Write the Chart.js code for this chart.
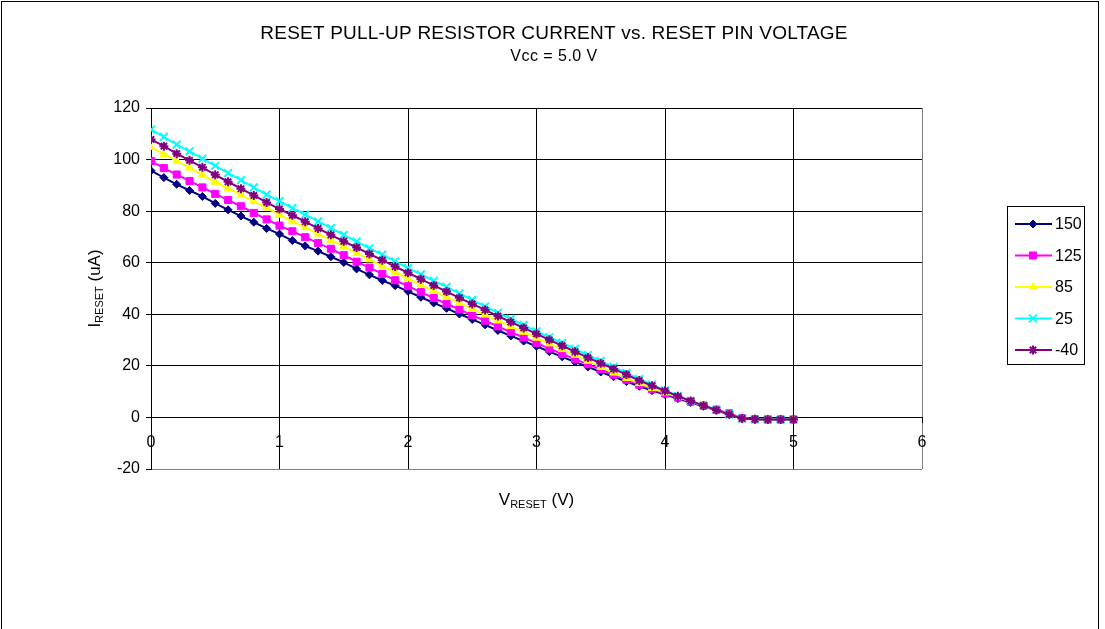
<!DOCTYPE html>
<html>
<head>
<meta charset="utf-8">
<script src="https://cdn.jsdelivr.net/npm/chart.js@4.4.1/dist/chart.umd.min.js"></script>
<style>
  html, body { margin: 0; padding: 0; background: #fff; }
  #c { display: block; }
</style>
</head>
<body>
<canvas id="c" width="1105" height="629"></canvas>
<script>
// ---- data ----
const voltage = [0.0,0.1,0.2,0.3,0.4,0.5,0.6,0.7,0.8,0.9,
                 1.0,1.1,1.2,1.3,1.4,1.5,1.6,1.7,1.8,1.9,
                 2.0,2.1,2.2,2.3,2.4,2.5,2.6,2.7,2.8,2.9,
                 3.0,3.1,3.2,3.3,3.4,3.5,3.6,3.7,3.8,3.9,
                 4.0,4.1,4.2,4.3,4.4,4.5,4.6,4.7,4.8,4.9,5.0];
const seriesNames = ['150', '125', '85', '25', '-40'];
const current150 = [95.7,93.0,90.4,88.0,85.7,83.0,80.5,78.1,75.7,73.3,
                    71.1,68.6,66.5,64.5,62.3,60.1,57.6,55.3,53.1,51.1,
                    48.9,46.6,44.4,42.3,40.1,38.0,35.9,33.7,31.6,29.6,
                    27.6,25.5,23.5,21.5,19.6,17.6,15.8,13.9,12.1,10.4,
                    8.9,7.3,5.8,4.3,2.8,1.2,-0.4,-0.7,-0.8,-0.8,-0.8];
const current125 = [99.4,96.7,94.2,91.7,89.2,86.7,84.3,81.9,79.3,76.8,
                    74.4,72.2,69.9,67.6,65.4,62.9,60.4,58.1,55.7,53.2,
                    50.9,48.6,46.3,44.1,41.9,39.6,37.5,35.3,33.1,31.0,
                    28.9,26.7,24.6,22.6,20.6,18.6,16.6,14.6,12.7,10.9,
                    9.3,7.7,6.1,4.5,3.0,1.6,-0.3,-0.7,-0.8,-0.8,-0.8];
const current85  = [104.8,102.1,99.5,96.8,94.1,91.3,88.8,86.4,83.8,81.3,
                    78.5,76.0,73.7,71.2,68.7,66.3,63.7,61.2,58.8,56.3,
                    53.8,51.4,49.1,46.7,44.4,42.0,39.8,37.5,35.3,33.1,
                    30.8,28.6,26.4,24.2,21.9,19.5,17.3,15.2,13.2,11.3,
                    9.6,7.9,6.3,4.6,2.9,1.3,-0.4,-0.7,-0.8,-0.8,-0.8];
const current25  = [111.6,108.8,105.8,103.2,100.4,97.6,94.8,92.0,89.2,86.4,
                    83.9,81.2,78.7,76.0,73.4,70.8,68.2,65.6,63.1,60.5,
                    57.9,55.5,53.0,50.6,48.1,45.6,43.0,40.6,38.2,35.8,
                    33.4,31.1,28.9,26.6,24.2,21.9,19.6,17.2,14.9,12.7,
                    10.5,8.3,6.4,4.6,2.9,1.2,-0.4,-0.7,-0.8,-0.8,-0.8];
const currentM40 = [107.8,105.2,102.3,99.7,97.0,94.1,91.4,88.7,86.1,83.4,
                    80.8,78.4,75.9,73.3,70.8,68.3,65.9,63.4,61.0,58.5,
                    56.1,53.6,51.2,48.8,46.4,44.0,41.7,39.3,37.0,34.7,
                    32.4,30.1,27.8,25.5,23.2,21.0,18.8,16.6,14.3,12.3,
                    10.3,8.2,6.4,4.6,2.9,1.2,-0.4,-0.7,-0.8,-0.8,-0.8];
const xTicks = [0, 1, 2, 3, 4, 5, 6];
const yTicks = [-20, 0, 20, 40, 60, 80, 100, 120];

// ---- styles ----
const FONT = '"Liberation Sans", Arial, sans-serif';
const styles = [
  { color: '#000080', pointStyle: 'rectRot',  radius: 4,   bw: 1 },
  { color: '#FF00FF', pointStyle: 'rect',     radius: 5,   bw: 1 },
  { color: '#FFFF00', pointStyle: 'triangle', radius: 4.5, bw: 1 },
  { color: '#00FFFF', pointStyle: 'crossRot', radius: 5.5, bw: 2 },
  { color: '#800080', pointStyle: 'star',     radius: 4.5, bw: 2 }
];
const allSeries = [current150, current125, current85, current25, currentM40];

const datasets = allSeries.map((arr, i) => ({
  label: seriesNames[i],
  data: voltage.map((v, k) => ({ x: v, y: arr[k] })),
  borderColor: styles[i].color,
  backgroundColor: styles[i].color,
  pointBackgroundColor: styles[i].color,
  pointBorderColor: styles[i].color,
  pointStyle: styles[i].pointStyle,
  pointRadius: styles[i].radius,
  pointBorderWidth: styles[i].bw,
  borderWidth: 2,
  tension: 0,
  order: allSeries.length - i
}));

function drawMarker(ctx, st, x, y) {
  ctx.save();
  ctx.fillStyle = st.color;
  ctx.strokeStyle = st.color;
  ctx.lineWidth = st.bw;
  if (Chart.helpers && Chart.helpers.drawPoint) {
    Chart.helpers.drawPoint(ctx, { pointStyle: st.pointStyle, radius: st.radius, rotation: 0, borderWidth: st.bw }, x, y);
  } else {
    ctx.beginPath(); ctx.arc(x, y, st.radius, 0, Math.PI * 2); ctx.fill();
  }
  ctx.restore();
}

function fitText(ctx, text, x, y, size, target) {
  ctx.font = size + 'px ' + FONT;
  ctx.letterSpacing = '0px';
  const w = ctx.measureText(text).width;
  if (target && w < target && text.length > 1) {
    ctx.letterSpacing = ((target - w) / (text.length - 1)).toFixed(2) + 'px';
  }
  ctx.textAlign = 'center';
  ctx.fillText(text, x, y);
  ctx.letterSpacing = '0px';
}

const decor = {
  id: 'decor',
  beforeDraw(chart) {
    const ctx = chart.ctx;
    ctx.save();
    ctx.fillStyle = '#fff';
    ctx.fillRect(0, 0, chart.width, chart.height);
    ctx.restore();
  },
  afterDraw(chart) {
    const ctx = chart.ctx;
    const ca = chart.chartArea;
    ctx.save();
    // outer frame
    ctx.strokeStyle = '#000';
    ctx.lineWidth = 1;
    ctx.strokeRect(1.5, 1.5, 1097, 700);

    // titles
    ctx.fillStyle = '#000';
    ctx.textBaseline = 'alphabetic';
    fitText(ctx, 'RESET PULL-UP RESISTOR CURRENT vs. RESET PIN VOLTAGE', 554, 39, 19, 587);
    fitText(ctx, 'Vcc = 5.0 V', 554, 61, 16, 87);

    // x axis title with subscript
    const cx = (ca.left + ca.right) / 2;
    const main = 17, sub = 11;
    ctx.textAlign = 'left';
    ctx.font = main + 'px ' + FONT;
    const wV = ctx.measureText('V').width;
    const wT = ctx.measureText(' (V)').width;
    ctx.font = sub + 'px ' + FONT;
    const wS = ctx.measureText('RESET').width;
    let x0 = cx - (wV + wS + wT) / 2;
    const by = 505;
    ctx.font = main + 'px ' + FONT; ctx.fillText('V', x0, by);
    ctx.font = sub + 'px ' + FONT; ctx.fillText('RESET', x0 + wV, by + 3);
    ctx.font = main + 'px ' + FONT; ctx.fillText(' (V)', x0 + wV + wS, by);

    // y axis title (rotated) with subscript
    const cy = (ca.top + ca.bottom) / 2;
    ctx.save();
    ctx.translate(100, cy);
    ctx.rotate(-Math.PI / 2);
    ctx.font = main + 'px ' + FONT;
    const wI = ctx.measureText('I').width;
    const wU = ctx.measureText(' (uA)').width;
    ctx.font = sub + 'px ' + FONT;
    const wS2 = ctx.measureText('RESET').width;
    let y0 = -(wI + wS2 + wU) / 2;
    ctx.font = main + 'px ' + FONT; ctx.fillText('I', y0, 0);
    ctx.font = sub + 'px ' + FONT; ctx.fillText('RESET', y0 + wI, 3);
    ctx.font = main + 'px ' + FONT; ctx.fillText(' (uA)', y0 + wI + wS2, 0);
    ctx.restore();

    // legend
    ctx.strokeStyle = '#000';
    ctx.lineWidth = 1;
    ctx.strokeRect(1007.5, 206.5, 77, 158);
    ctx.font = '16px ' + FONT;
    ctx.textAlign = 'left';
    ctx.textBaseline = 'middle';
    seriesNames.forEach((name, i) => {
      const ly = 224 + i * 31.5;
      ctx.strokeStyle = styles[i].color;
      ctx.lineWidth = 2;
      ctx.beginPath();
      ctx.moveTo(1015, ly);
      ctx.lineTo(1052, ly);
      ctx.stroke();
      drawMarker(ctx, styles[i], 1033, ly);
      ctx.fillStyle = '#000';
      ctx.fillText(name, 1055, ly + 1);
    });
    ctx.restore();
  }
};

new Chart(document.getElementById('c'), {
  type: 'line',
  data: { datasets },
  options: {
    responsive: false,
    animation: false,
    events: [],
    layout: { padding: { left: 0, top: 108, right: 183, bottom: 160 } },
    plugins: {
      legend: { display: false },
      title: { display: false },
      tooltip: { enabled: false }
    },
    scales: {
      x: {
        type: 'linear',
        min: 0, max: 6,
        position: { y: 0 },
        afterBuildTicks: s => { s.ticks = xTicks.map(v => ({ value: v })); },
        ticks: { color: '#000', font: { family: FONT, size: 16 }, padding: 11, maxRotation: 0, autoSkip: false },
        grid: {
          color: c => (c.tick && c.tick.value === 6) ? '#808080' : '#000',
          tickColor: '#000', lineWidth: 1, tickLength: 5
        },
        border: { color: '#000', width: 1 }
      },
      y: {
        type: 'linear',
        min: -20, max: 120,
        afterBuildTicks: s => { s.ticks = yTicks.map(v => ({ value: v })); },
        afterFit: s => { s.width = 151; },
        ticks: { color: '#000', font: { family: FONT, size: 16 }, padding: 6 },
        grid: {
          color: c => (c.tick && c.tick.value === -20) ? '#808080' : '#000',
          tickColor: '#000', lineWidth: 1, tickLength: 5
        },
        border: { color: '#000', width: 1 }
      }
    }
  },
  plugins: [decor]
});
</script>
</body>
</html>
